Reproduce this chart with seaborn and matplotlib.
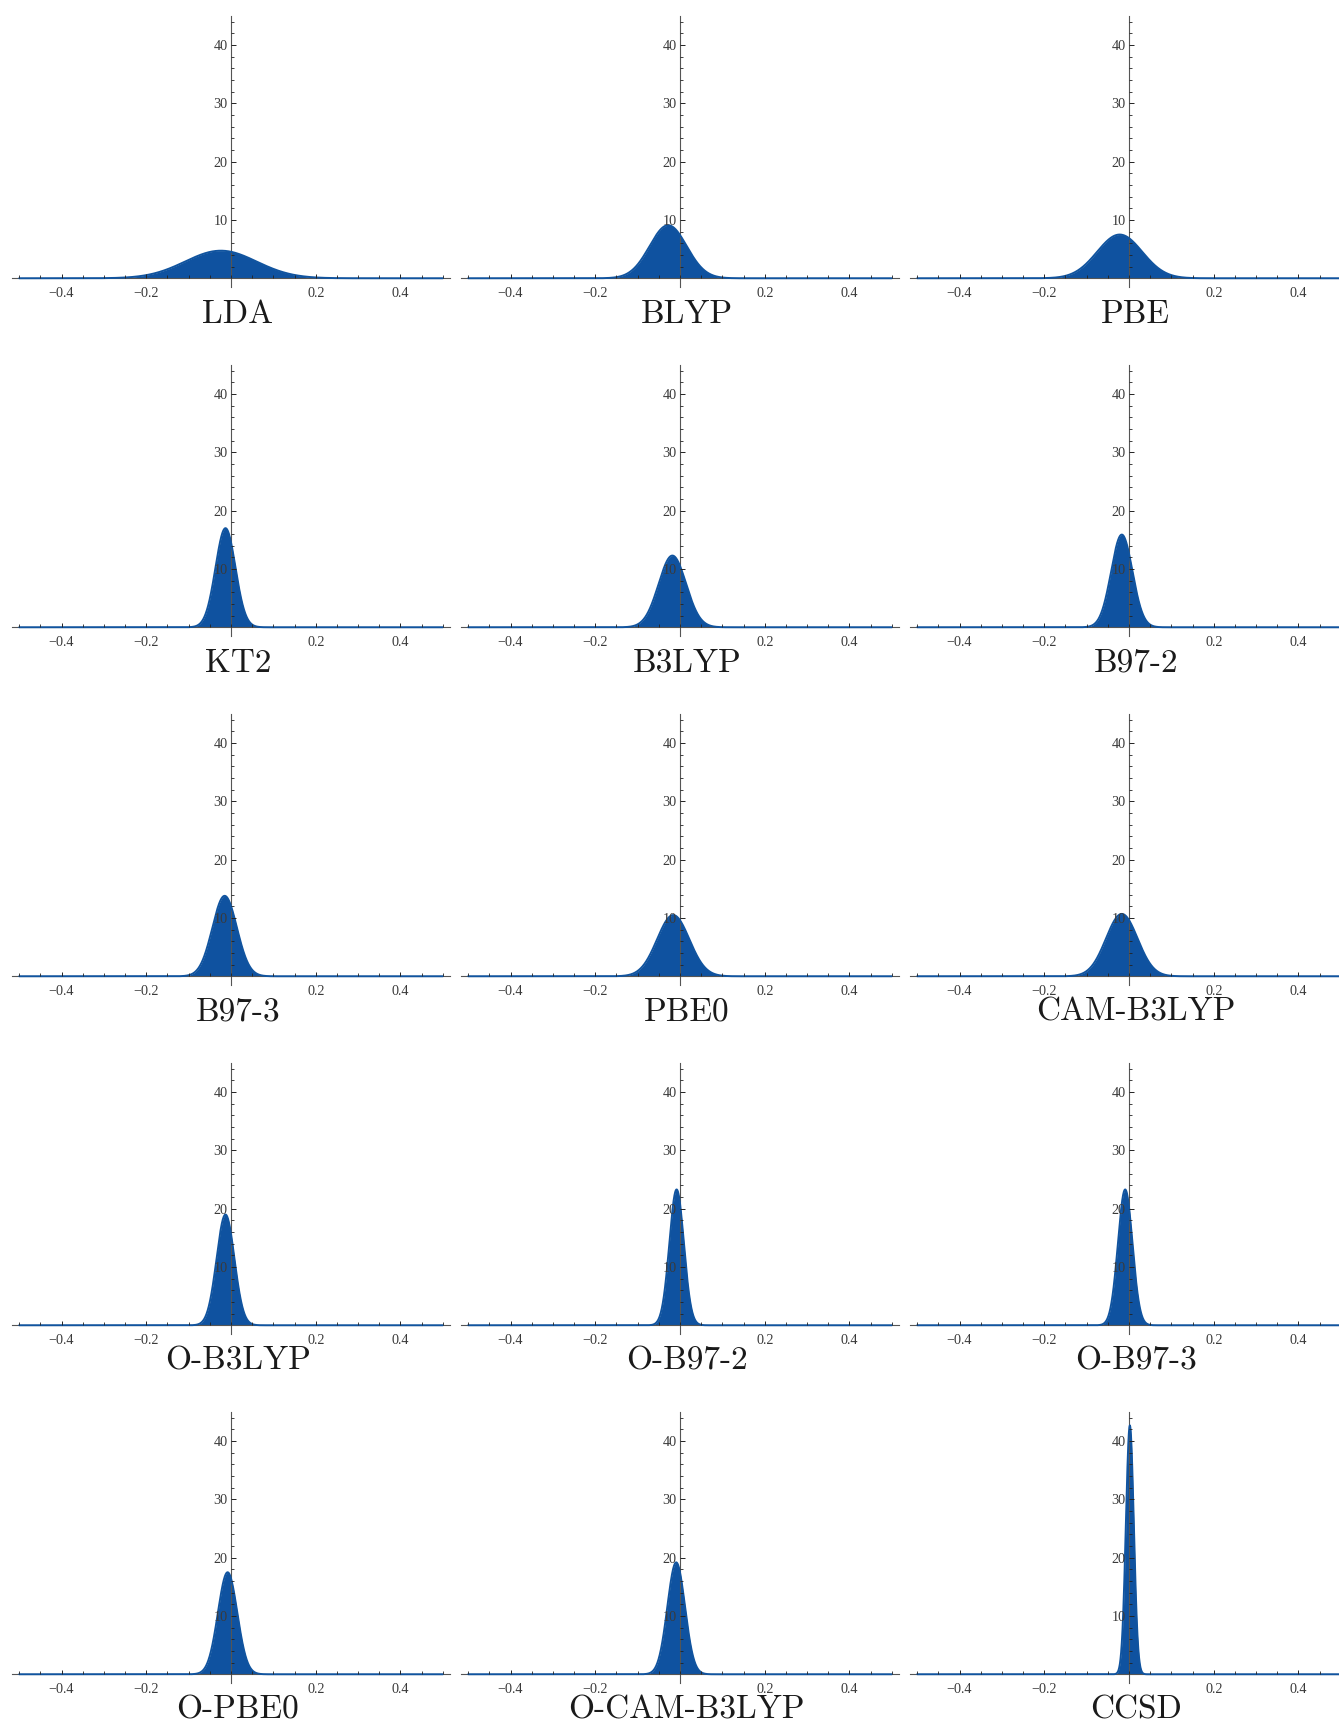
import numpy as np
import pandas as pd
import matplotlib
matplotlib.use("Agg")
import matplotlib.pyplot as plt
from matplotlib.ticker import FixedLocator, FixedFormatter
import seaborn as sns

# ---- data ----
methods = ["LDA", "BLYP", "PBE",
           "KT2", "B3LYP", "B97-2",
           "B97-3", "PBE0", "CAM-B3LYP",
           "O-B3LYP", "O-B97-2", "O-B97-3",
           "O-PBE0", "O-CAM-B3LYP", "CCSD"]
# peak position (mean error) of each normal-error curve
peak_pos = [-0.024, -0.028, -0.022,
            -0.013, -0.018, -0.017,
            -0.015, -0.016, -0.017,
            -0.013, -0.008, -0.009,
            -0.008, -0.009, 0.002]
# peak height of each curve
peak_height = [4.73, 9.1, 7.5,
               17.0, 12.3, 15.9,
               13.8, 10.5, 10.7,
               19.0, 23.3, 23.3,
               17.5, 19.2, 42.7]
x_major = [-0.4, -0.2, 0.2, 0.4]
x_major_labels = ["\u22120.4", "\u22120.2", "0.2", "0.4"]
y_major = [10, 20, 30, 40]
y_major_labels = ["10", "20", "30", "40"]

FILL = "#0F52A0"
LINE = "#11549F"

sns.set_style("white")
plt.rcParams["font.family"] = ["Liberation Serif", "DejaVu Serif"]

W, H = 1339, 1725
fig = plt.figure(figsize=(W / 100, H / 100), dpi=100)

xs = np.linspace(-0.5, 0.5, 3001)

for i, name in enumerate(methods):
    r, c = divmod(i, 3)
    left_px = 12 + 449 * c
    top_px = 16 + 349 * r
    w_px, h_px = 438, 271
    ax = fig.add_axes([left_px / W, 1 - (top_px + h_px) / H, w_px / W, h_px / H])
    ax.patch.set_alpha(0)

    sd = 1.0 / (peak_height[i] * np.sqrt(2 * np.pi))
    ys = np.exp(-0.5 * ((xs - peak_pos[i]) / sd) ** 2) / (sd * np.sqrt(2 * np.pi))
    df = pd.DataFrame({"x": xs, "y": ys})
    ax.fill_between(df["x"], 0, df["y"], color=FILL, lw=0, zorder=1)
    sns.lineplot(data=df, x="x", y="y", ax=ax, color=LINE, lw=1.4, zorder=2.2)

    ax.set_xlim(-0.517, 0.517)
    ax.set_ylim(-1.5, 45)
    ax.set_xlabel("")
    ax.set_ylabel("")

    for s in ["top", "right"]:
        ax.spines[s].set_visible(False)
    ax.spines["left"].set_position(("data", 0))
    ax.spines["bottom"].set_position(("data", 0))
    for s in ["left", "bottom"]:
        ax.spines[s].set_color("#555555")
        ax.spines[s].set_linewidth(0.8)
        ax.spines[s].set_zorder(2)
    ax.set_axisbelow(False)

    ax.xaxis.set_major_locator(FixedLocator(x_major))
    ax.xaxis.set_major_formatter(FixedFormatter(x_major_labels))
    ax.xaxis.set_minor_locator(FixedLocator(np.round(np.arange(-0.5, 0.501, 0.05), 3)))
    ax.yaxis.set_major_locator(FixedLocator(y_major))
    ax.yaxis.set_major_formatter(FixedFormatter(y_major_labels))
    ax.yaxis.set_minor_locator(FixedLocator(np.arange(2, 45, 2)))

    ax.tick_params(axis="x", which="major", direction="in", length=3.0, width=0.7,
                   color="#222222", pad=6.0, labelsize=10.2, labelcolor="#3a3a3a",
                   bottom=True)
    ax.tick_params(axis="x", which="minor", direction="in", length=2.0, width=0.6,
                   color="#222222", bottom=True)
    ax.tick_params(axis="y", which="major", direction="in", length=3.6, width=0.7,
                   color="#222222", pad=2.4, labelsize=10.2, labelcolor="#3a3a3a",
                   left=True)
    ax.tick_params(axis="y", which="minor", direction="in", length=2.2, width=0.6,
                   color="#222222", left=True)
    ax.grid(False)

    ax.annotate(name, xy=(0.016, 0), xycoords="data", xytext=(0, -26),
                textcoords="offset points", ha="center", va="center",
                fontsize=24, family=["cmr10", "DejaVu Serif"], color="#1a1a1a",
                annotation_clip=False)

fig.savefig("out.png", dpi=100, facecolor="white")
